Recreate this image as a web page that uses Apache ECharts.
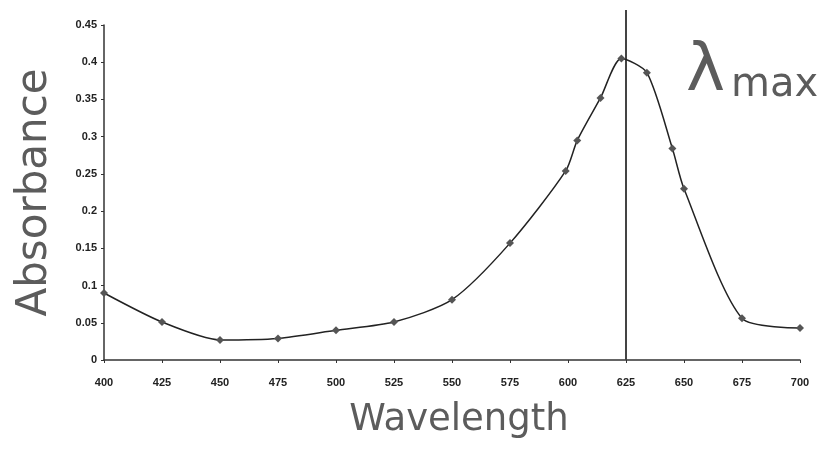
<!DOCTYPE html>
<html>
<head>
<meta charset="utf-8">
<script src="https://cdn.jsdelivr.net/npm/echarts@6/dist/echarts.min.js"></script>
<style>
  html, body { margin: 0; padding: 0; background: #fff; }
  #chart { width: 820px; height: 452px; }
</style>
</head>
<body>
<div id="chart"></div>
<script>
// wavelength (nm) of each measured point
const wavelengths = [400, 425, 450, 475, 500, 525, 550, 575, 599, 604, 614, 623, 634, 645, 650, 675, 700]
// absorbance at each wavelength
const absorbance = [0.090, 0.051, 0.027, 0.029, 0.040, 0.051, 0.081, 0.157, 0.254, 0.295, 0.352, 0.405, 0.386, 0.284, 0.230, 0.056, 0.043]
// lambda max marker: vertical line from 0 up past the top of the axis
const lambdaMax = 625
const lambdaLine = [0, 0.47]

const chart = echarts.init(document.getElementById('chart'))

const labelStyle = { fontSize: 11, color: '#222', fontWeight: 'bold', fontFamily: 'Liberation Sans' }

const option = {
  animation: false,
  backgroundColor: '#fff',
  grid: { left: 104, right: 20, top: 25, bottom: 92 },
  xAxis: {
    type: 'value',
    min: 400,
    max: 700,
    interval: 25,
    name: 'Wavelength',
    nameLocation: 'middle',
    nameGap: 42,
    nameTextStyle: { fontSize: 37, color: '#5c5c5c', fontFamily: 'DejaVu Sans', verticalAlign: 'top', padding: [0, 0, 0, 14] },
    splitLine: { show: false },
    axisLine: { lineStyle: { color: '#333', width: 1.5 } },
    axisTick: { length: 3, lineStyle: { color: '#333' } },
    axisLabel: Object.assign({ margin: 17 }, labelStyle)
  },
  yAxis: {
    type: 'value',
    min: 0,
    max: 0.45,
    interval: 0.05,
    name: 'Absorbance',
    nameLocation: 'middle',
    nameRotate: 90,
    nameGap: 48,
    nameTextStyle: { fontSize: 42, color: '#5c5c5c', fontFamily: 'DejaVu Sans' },
    splitLine: { show: false },
    axisLine: { show: true, lineStyle: { color: '#333', width: 1.5 } },
    axisTick: { show: true, length: 3, lineStyle: { color: '#333' } },
    axisLabel: Object.assign({ margin: 7 }, labelStyle)
  },
  series: [{
    type: 'line',
    data: lambdaLine.map(v => [lambdaMax, v]),
    clip: false,
    symbol: 'none',
    silent: true,
    lineStyle: { color: '#444', width: 2 },
    z: 1
  }, {
    type: 'line',
    data: wavelengths.map((w, i) => [w, absorbance[i]]),
    smooth: 0.25,
    clip: false,
    symbol: 'diamond',
    symbolSize: 8,
    itemStyle: { color: '#555' },
    lineStyle: { color: '#222', width: 1.5 },
    z: 3
  }],
  graphic: [{
    type: 'text',
    left: 686,
    top: 40,
    style: {
      text: '{l|λ}{m|max}',
      rich: {
        l: { fontSize: 66, fontFamily: 'DejaVu Sans', fill: '#5c5c5c', verticalAlign: 'bottom' },
        m: { fontSize: 40, fontFamily: 'DejaVu Sans', fill: '#5c5c5c', verticalAlign: 'bottom', padding: [0, 0, 0, 6] }
      }
    }
  }]
}

chart.setOption(option)
</script>
</body>
</html>
